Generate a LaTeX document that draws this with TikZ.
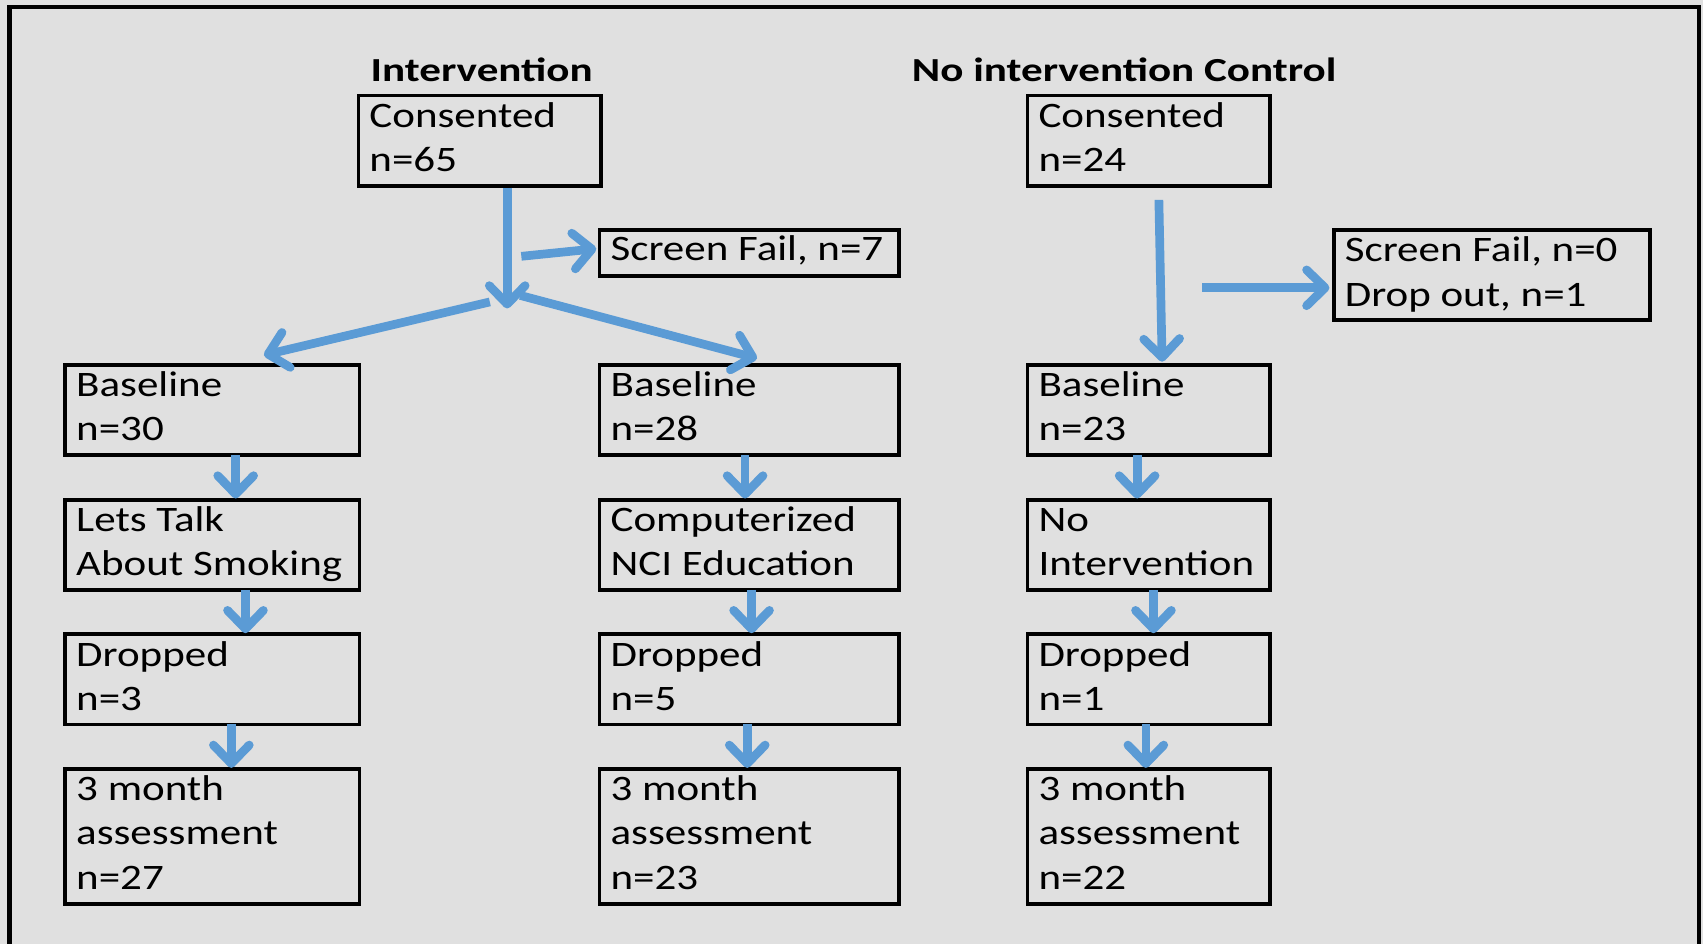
\documentclass[tikz,border=0pt]{standalone}
\usepackage{fontspec}
\setmainfont{Carlito}[FakeStretch=1.2]
\newfontfamily\titlefont{Carlito}[FakeStretch=1.28]
\usetikzlibrary{arrows.meta}
\definecolor{bg}{HTML}{E0E0E0}
\definecolor{arrowblue}{HTML}{5B9BD5}
\begin{document}
\begin{tikzpicture}[x=1pt,y=-1pt,
  box/.style={draw=black,line width=3.5pt,rectangle,inner sep=0pt,outer sep=0pt,anchor=north west},
  txt/.style={anchor=north west,inner sep=0pt,align=left,xshift=10pt,font=\fontsize{33}{40.8}\selectfont},
  ttl/.style={anchor=base,inner sep=0pt,font=\titlefont\bfseries\fontsize{31}{36}\selectfont},
  arr/.style={draw=arrowblue,line width=8pt,-{Straight Barb[length=17pt,width=33pt,round]}}
]
\useasboundingbox (0,0) rectangle (1568,869);
\fill[bg] (0,0) rectangle (1568,869);
\clip (0,0) rectangle (1568,869);
\draw[black,line width=4pt] (8.7,6.2) rectangle (1564.4,900);

% titles
\node[ttl] (t1) at (443.5,75) {Intervention};
\node[ttl] (t2) at (1035,75) {No intervention Control};

% boxes
\node[box,minimum width=223pt,minimum height=83pt] (c1) at (330,88) {};
\node[box,minimum width=276pt,minimum height=42pt] (sf1) at (552,212) {};
\node[box,minimum width=223pt,minimum height=83pt] (c2) at (946,88) {};
\node[box,minimum width=291pt,minimum height=83pt] (sf2) at (1228,212) {};

\node[box,minimum width=271pt,minimum height=83pt] (b1) at (60,336) {};
\node[box,minimum width=276pt,minimum height=83pt] (b2) at (552,336) {};
\node[box,minimum width=223pt,minimum height=83pt] (b3) at (946,336) {};

\node[box,minimum width=271pt,minimum height=83pt] (i1) at (60,460) {};
\node[box,minimum width=276pt,minimum height=83pt] (i2) at (552,460) {};
\node[box,minimum width=223pt,minimum height=83pt] (i3) at (946,460) {};

\node[box,minimum width=271pt,minimum height=83pt] (d1) at (60,584) {};
\node[box,minimum width=276pt,minimum height=83pt] (d2) at (552,584) {};
\node[box,minimum width=223pt,minimum height=83pt] (d3) at (946,584) {};

\node[box,minimum width=271pt,minimum height=124pt] (m1) at (60,708) {};
\node[box,minimum width=276pt,minimum height=124pt] (m2) at (552,708) {};
\node[box,minimum width=223pt,minimum height=124pt] (m3) at (946,708) {};

% texts
\node[txt] (c1t) at (c1.north west) {\rule{0pt}{29pt}Consented\\n=65};
\node[txt] (sf1t) at (sf1.north west) {\rule{0pt}{28pt}Screen Fail, n=7};
\node[txt] (c2t) at (c2.north west) {\rule{0pt}{29pt}Consented\\n=24};
\node[txt] (sf2t) at (sf2.north west) {\rule{0pt}{29pt}Screen Fail, n=0\\Drop out, n=1};
\node[txt] (b1t) at (b1.north west) {\rule{0pt}{29pt}Baseline\\n=30};
\node[txt] (b2t) at (b2.north west) {\rule{0pt}{29pt}Baseline\\n=28};
\node[txt] (b3t) at (b3.north west) {\rule{0pt}{29pt}Baseline\\n=23};
\node[txt] (i1t) at (i1.north west) {\rule{0pt}{29pt}Lets Talk\\About Smoking};
\node[txt] (i2t) at (i2.north west) {\rule{0pt}{29pt}Computerized\\NCI Education};
\node[txt] (i3t) at (i3.north west) {\rule{0pt}{29pt}No\\Intervention};
\node[txt] (d1t) at (d1.north west) {\rule{0pt}{29pt}Dropped\\n=3};
\node[txt] (d2t) at (d2.north west) {\rule{0pt}{29pt}Dropped\\n=5};
\node[txt] (d3t) at (d3.north west) {\rule{0pt}{29pt}Dropped\\n=1};
\node[txt] (m1t) at (m1.north west) {\rule{0pt}{29pt}3 month\\assessment\\n=27};
\node[txt] (m2t) at (m2.north west) {\rule{0pt}{29pt}3 month\\assessment\\n=23};
\node[txt] (m3t) at (m3.north west) {\rule{0pt}{29pt}3 month\\assessment\\n=22};

% junction
\coordinate (j) at (467,284);
\coordinate (s1) at (480,236);
\coordinate (s2) at (1107,265);

% arrows intervention
\draw[arr] ([shift={(25.5,2)}]c1.south) -- (j);
\draw[arr] (s1) -- ([shift={(-3,-4)}]sf1.west);
\draw[arr] ([shift={(-16,-6)}]j) -- ([shift={(47.5,-9)}]b1.north);
\draw[arr] ([shift={(12,-12)}]j) -- ([shift={(7,-6)}]b2.north);

% arrows control
\draw[arr] ([shift={(9.5,13)}]c2.south) -- ([shift={(12.5,-3)}]b3.north);
\draw[arr] (s2) -- ([shift={(-4,11.5)}]sf2.west);

% short arrows
\draw[arr] ([shift={(21.5,0)}]b1.south) -- ([shift={(21.5,-1)}]i1.north);
\draw[arr] ([shift={(30.5,0)}]i1.south) -- ([shift={(30.5,-1)}]d1.north);
\draw[arr] ([shift={(17.5,0)}]d1.south) -- ([shift={(17.5,-1)}]m1.north);

\draw[arr] ([shift={(-4,0)}]b2.south) -- ([shift={(-4,-1)}]i2.north);
\draw[arr] ([shift={(2,0)}]i2.south) -- ([shift={(2,-1)}]d2.north);
\draw[arr] ([shift={(-2,0)}]d2.south) -- ([shift={(-2,-1)}]m2.north);

\draw[arr] ([shift={(-10.5,0)}]b3.south) -- ([shift={(-10.5,-1)}]i3.north);
\draw[arr] ([shift={(4.5,0)}]i3.south) -- ([shift={(4.5,-1)}]d3.north);
\draw[arr] ([shift={(-2.5,0)}]d3.south) -- ([shift={(-2.5,-1)}]m3.north);
\end{tikzpicture}
\end{document}
